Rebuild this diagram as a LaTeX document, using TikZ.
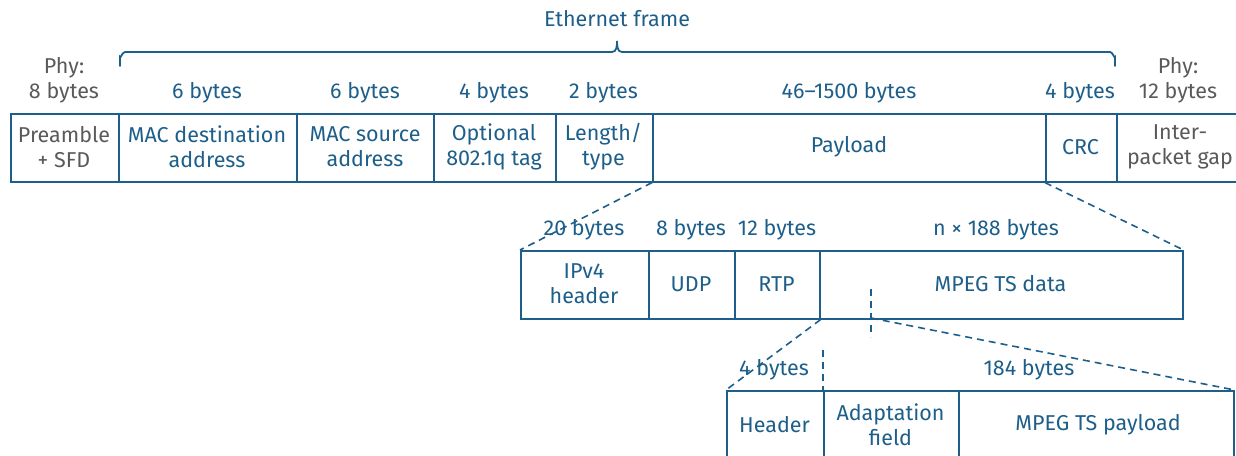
\documentclass[tikz,border=0pt]{standalone}
\usepackage{fontspec}
\setmainfont{Fira Sans}
\definecolor{eblue}{HTML}{1D5F8A}
\definecolor{egrey}{HTML}{5A5A5A}
\begin{document}
\begin{tikzpicture}[x=1pt,y=-1pt,
  every node/.style={font=\fontsize{21.5}{25}\selectfont, text=eblue, align=center, inner sep=0pt},
  field/.style={draw=eblue, line width=1.6pt, rectangle, anchor=north west},
  lbl/.style={anchor=base},
  glbl/.style={anchor=base, text=egrey},
  dashline/.style={draw=eblue, line width=1.6pt, dash pattern=on 7pt off 5pt},
  brc/.style={draw=eblue, line width=1.8pt, line cap=round}]
\useasboundingbox (0,0) rectangle (1236,455);
\clip (0,0) rectangle (1236,455);
% top row
\node[field, minimum width=108pt, minimum height=68pt] (pre) at (10,113) {};
\node[field, minimum width=178pt, minimum height=68pt] (macd) at (118,113) {};
\node[field, minimum width=137pt, minimum height=68pt] (macs) at (296,113) {};
\node[field, minimum width=122pt, minimum height=68pt] (opt) at (433,113) {};
\node[field, minimum width=97pt, minimum height=68pt] (len) at (555,113) {};
\node[field, minimum width=393pt, minimum height=68pt] (pay) at (652,113) {};
\node[field, minimum width=71pt, minimum height=68pt] (crc) at (1045,113) {};
\node[field, minimum width=130pt, minimum height=68pt] (ipg) at (1116,113) {};
% top row texts
\node[text=egrey] (tpre) at (64,147) {Preamble\\+ SFD};
\node (tmacd) at (207,147) {MAC destination\\address};
\node (tmacs) at (365,147) {MAC source\\address};
\node (topt) at (494,147) {Optional\\802.1q tag};
\node (tlen) at (603.5,147) {Length/\\type};
\node (tpay) at (849,147) {Payload};
\node (tcrc) at (1080.5,147) {CRC};
\node[text=egrey] (tipg) at (1180,147) {Inter-\\packet gap};
% top byte labels
\node[glbl] (bphy1a) at (64,73) {Phy:};
\node[glbl] (bphy1) at (64,98) {8 bytes};
\node[lbl] (bmacd) at (207,98) {6 bytes};
\node[lbl] (bmacs) at (365,98) {6 bytes};
\node[lbl] (bopt) at (494,98) {4 bytes};
\node[lbl] (blen) at (603.5,98) {2 bytes};
\node[lbl] (bpay) at (849,98) {46–1500 bytes};
\node[lbl] (bcrc) at (1080,98) {4 bytes};
\node[glbl] (bphy2a) at (1178,73) {Phy:};
\node[glbl] (bphy2) at (1178,98) {12 bytes};
% brace
\node[lbl] (eth) at (617,27) {Ethernet frame};
\draw[brc] (120,66) -- (120,57) to[out=-90,in=180] (125,52) -- (612,52) to[out=0,in=-90] (617,41) to[out=-90,in=180] (622,52) -- (1110,52) to[out=0,in=-90] (1115,57) -- (1115,66);
% second row
\node[field, minimum width=128pt, minimum height=68pt] (ipv4) at (520,250) {};
\node[field, minimum width=86pt, minimum height=68pt] (udp) at (648,250) {};
\node[field, minimum width=85pt, minimum height=68pt] (rtp) at (734,250) {};
\node[field, minimum width=363pt, minimum height=68pt] (mpeg) at (819,250) {};
\node (tipv4) at (584,284) {IPv4\\header};
\node (tudp) at (691,284) {UDP};
\node (trtp) at (776.5,284) {RTP};
\node (tmpeg) at (1000.5,284) {MPEG TS data};
\node[lbl] (bipv4) at (584,235) {20 bytes};
\node[lbl] (budp) at (691,235) {8 bytes};
\node[lbl] (brtp) at (777,235) {12 bytes};
\node[lbl] (bmpeg) at (996,235) {n × 188 bytes};
% third row
\node[field, minimum width=97pt, minimum height=80pt] (hdr) at (726,390) {};
\node[field, minimum width=135pt, minimum height=80pt] (adapt) at (823,390) {};
\node[field, minimum width=275pt, minimum height=80pt] (tsp) at (958,390) {};
\node (thdr) at (774.5,425) {Header};
\node (tadapt) at (890.5,425) {Adaptation\\field};
\node (ttsp) at (1098,425) {MPEG TS payload};
\node[lbl] (bhdr) at (774,375) {4 bytes};
\node[lbl] (btsp) at (1029,375) {184 bytes};
% dashed connectors
\coordinate (split) at (871,318);
\coordinate (splittop) at (871,289);
\coordinate (splitbot) at (871,337);
\coordinate (adtop) at (823,350);
\draw[dashline] (pay.south west) -- (ipv4.north west);
\draw[dashline] (crc.south west) -- (mpeg.north east);
\draw[dashline] (rtp.south east) -- (hdr.north west);
\draw[dashline] (split) -- (tsp.north east);
\draw[dashline] (splittop) -- (splitbot);
\draw[dashline] (adtop) -- (adapt.north west);
\end{tikzpicture}
\end{document}
